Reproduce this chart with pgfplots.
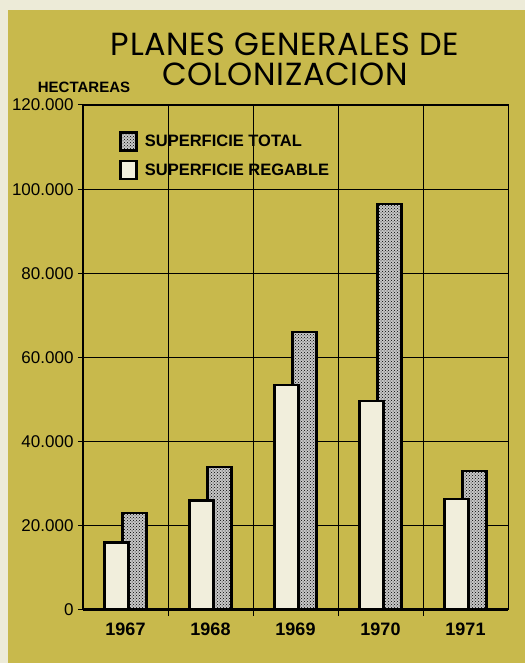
\documentclass[border=0pt]{standalone}
\usepackage{fontspec}
\setmainfont{Liberation Sans}
\newfontfamily\titlefont[LetterSpace=2]{Poppins}
\usepackage{pgfplots}
\pgfplotsset{compat=1.18}
\usetikzlibrary{patterns}

\definecolor{panel}{HTML}{C8B94C}
\definecolor{cream}{HTML}{EDEBD8}
\definecolor{barlight}{HTML}{F1EEDC}

\pgfplotsset{
  boxlegend/.style={legend image code/.code={%
      \draw[##1, line width=2.5pt] (0pt,-9pt) rectangle (16pt,9pt);}},
}

\begin{document}
\begin{tikzpicture}[x=1pt,y=1pt]
  % background: cream margin and olive panel
  \fill[cream] (-83,-53) rectangle (442,610);
  \fill[panel] (-75,-53) rectangle (442,600);

  \begin{axis}[
      at={(0,0)}, anchor=south west,
      scale only axis,
      width=425pt, height=505pt,
      xmin=-0.5, xmax=4.5,
      ymin=0, ymax=120000,
      xtick={0,1,2,3,4},
      xticklabels={1967,1968,1969,1970,1971},
      major x tick style={draw=none},
      minor xtick={0.5,1.5,2.5,3.5},
      xminorgrids=true,
      ytick={0,20000,40000,60000,80000,100000,120000},
      yticklabels={0,20.000,40.000,60.000,80.000,100.000,120.000},
      ymajorgrids=true,
      scaled y ticks=false,
      /pgf/number format/assume math mode=true,
      grid style={black, line width=0.8pt},
      minor grid style={black, line width=0.8pt},
      tick align=outside,
      xtick pos=bottom, ytick pos=left,
      major tick length=5pt, minor tick length=6pt,
      tick style={black, line width=1pt},
      axis line style={black, line width=1pt},
      yticklabel style={font=\fontsize{17}{17}\selectfont, xshift=-1pt},
      xticklabel style={font=\fontsize{18}{18}\selectfont\bfseries, yshift=-4pt},
      legend style={
          at={(0.078,0.952)}, anchor=north west,
          draw=none, fill=none,
          font=\fontsize{16.5}{16.5}\selectfont\bfseries,
          row sep=8pt, column sep=6pt,
          nodes={inner sep=1pt}
      },
      legend cell align=left,
    ]
    % superficie total (dotted), drawn behind
    \addplot[ybar, boxlegend, bar width=24pt, bar shift=9pt, draw=black, line width=2.5pt,
             fill=black!22, postaction={pattern=crosshatch dots, pattern color=black}]
      coordinates {(0,23000) (1,34000) (2,66000) (3,96500) (4,33000)};
    \addlegendentry{SUPERFICIE TOTAL}
    % superficie regable (light), drawn in front
    \addplot[ybar, boxlegend, bar width=24pt, bar shift=-9pt, draw=black, line width=2.5pt,
             fill=barlight]
      coordinates {(0,16000) (1,26000) (2,53500) (3,49700) (4,26400)};
    \addlegendentry{SUPERFICIE REGABLE}

    % heavy left and bottom axis lines
    \draw[black, line width=3pt] (rel axis cs:0,0) -- (rel axis cs:0,1);
    \draw[black, line width=4.5pt] (rel axis cs:-0.005,0) -- (rel axis cs:1,0);
  \end{axis}

  \node[font=\titlefont\fontsize{32}{32}\selectfont, inner sep=0pt]
    at (202,566) {PLANES GENERALES DE};
  \node[font=\titlefont\fontsize{32}{32}\selectfont, inner sep=0pt]
    at (202,536) {COLONIZACION};
  \node[font=\fontsize{15}{15}\selectfont\bfseries] at (1,523) {HECTAREAS};
\end{tikzpicture}
\end{document}
